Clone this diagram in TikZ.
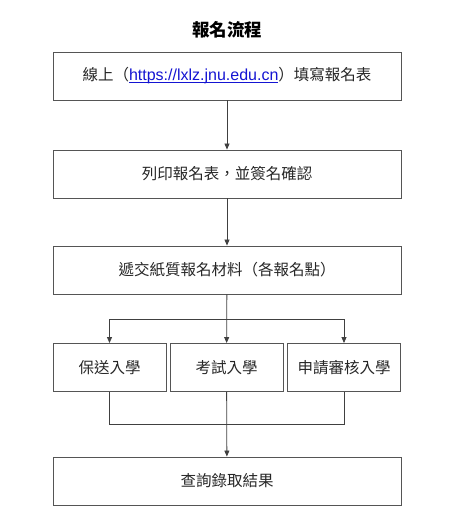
\documentclass[tikz,border=0pt]{standalone}
\usepackage{fontspec}
\setmainfont{Noto Sans CJK TC}
\newfontfamily\urlfont{Liberation Sans}
\usetikzlibrary{arrows.meta}
\definecolor{boxline}{RGB}{85,85,85}
\definecolor{linkblue}{RGB}{20,20,210}
\newcommand\urlul[1]{\setbox0\hbox{#1}\rlap{\rule[-1.8pt]{\wd0}{0.8pt}}\box0}
\tikzset{
  stepbox/.style={draw=boxline, line width=0.9pt, minimum height=48pt, inner sep=0pt, font=\fontsize{15.5}{18}\selectfont, text=black!85},
  widebox/.style={stepbox, minimum width=348pt},
  smallbox/.style={stepbox, minimum width=113pt},
  conn/.style={draw=black!75, line width=0.8pt},
  arr/.style={conn, -{Triangle[length=6pt,width=5pt]}}
}
\begin{document}
\begin{tikzpicture}[x=1pt,y=-1pt]
\useasboundingbox (0,0) rectangle (472,514);
\node[font=\fontsize{17.5}{20}\selectfont\bfseries] (title) at (227,30) {報名流程};
\node[widebox] (b1) at (227,76) {線上（{\color{linkblue}\urlul{\urlfont\fontsize{16}{18}\selectfont https://lxlz.jnu.edu.cn}}）填寫報名表};
\node[widebox] (b2) at (227,174) {列印報名表，並簽名確認};
\node[widebox] (b3) at (227,270) {遞交紙質報名材料（各報名點）};
\node[smallbox] (ka) at (109.5,367.5) {保送入學};
\node[smallbox] (kb) at (226.5,367.5) {考試入學};
\node[smallbox] (kc) at (344,367.5) {申請審核入學};
\node[widebox] (b5) at (227,481) {查詢錄取結果};
\coordinate (j1) at (227,319);
\coordinate (j2) at (227,424);
\draw[arr] (b1) -- (b2);
\draw[arr] (b2) -- (b3);
\draw[arr] (b3) -- (kb);
\draw[arr] (j1) -| (ka.north);
\draw[arr] (j1) -| (kc.north);
\draw[conn] (ka.south) |- (j2);
\draw[conn] (kc.south) |- (j2);
\draw[arr] (kb) -- (b5);
\end{tikzpicture}
\end{document}
